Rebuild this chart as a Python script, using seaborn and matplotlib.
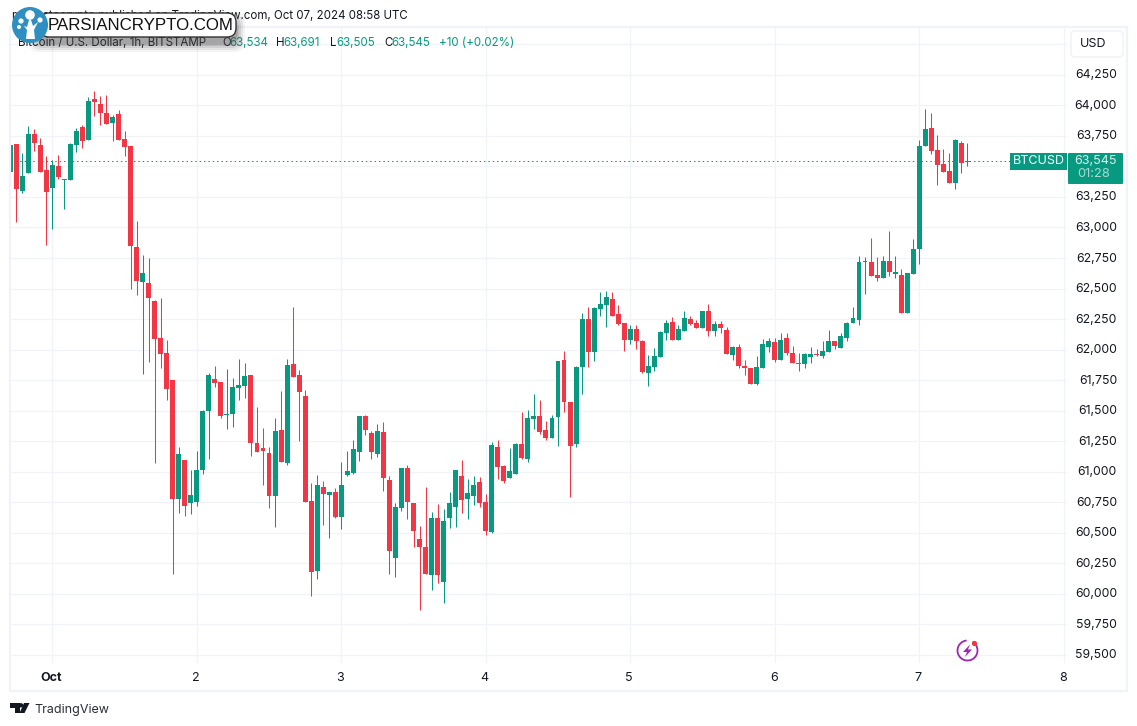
import matplotlib
matplotlib.use("Agg")
import matplotlib.pyplot as plt
from matplotlib.patches import Circle, FancyBboxPatch, Polygon, Rectangle, Arc
from matplotlib.transforms import ScaledTranslation
import pandas as pd
import seaborn as sns

GREEN = "#089981"
RED = "#F23645"
GRID = "#F0F3FA"
INK = "#131722"
W, H = 1137, 726

FIRST_HOUR = -7
DAY_LABELS = ["Oct", "2", "3", "4", "5", "6", "7", "8"]
PRICE_TICKS = [59500, 59750, 60000, 60250, 60500, 60750, 61000, 61250, 61500, 61750, 62000,
               62250, 62500, 62750, 63000, 63250, 63500, 63750, 64000, 64250, 64500]
HIDDEN_TICKS = [63500, 64500]
LAST_PRICE = 63545

OPEN = [
    63456, 63683, 63298, 63445, 63765, 63675, 63470, 63322, 63502, 63385,
    63388, 63675, 63822, 63716, 64052, 64011, 63937, 63855, 63929, 63724,
    63666, 62843, 62556, 62548, 62400, 62097, 61974, 61753, 60777, 61097,
    60745, 60753, 61015, 61499, 61761, 61736, 61466, 61474, 61687, 61703,
    61794, 61236, 61195, 61154, 60802, 61343, 61072, 61884, 61794, 61621,
    60758, 60184, 60873, 60807, 60832, 60627, 60971, 60988, 61160, 61455,
    61315, 61143, 61324, 60930, 60291, 60701, 61028, 60742, 60447, 60381,
    60152, 60619, 60094, 60619, 60709, 60963, 60775, 60799, 60914, 60750,
    60504, 61201, 61045, 60947, 60979, 61225, 61102, 61430, 61455, 61340,
    61273, 61445, 61912, 61568, 61224, 61855, 62248, 61978, 62330, 62363,
    62412, 62289, 62215, 62076, 62166, 62068, 61806, 61855, 61937, 62133,
    62224, 62076, 62150, 62248, 62215, 62174, 62314, 62150, 62207, 62158,
    61953, 62019, 61863, 61847, 61716, 61847, 62019, 62060, 61912, 62093,
    61970, 61888, 61880, 61937, 61962, 61945, 61978, 62068, 62011, 62093,
    62216, 62240, 62716, 62716, 62609, 62584, 62724, 62617, 62609, 62298,
    62617, 62823, 63667, 63815, 63635, 63520, 63462, 63364, 63692, 63534,
]
HIGH = [
    63675, 63683, 63609, 63830, 63806, 63732, 63585, 63552, 63593, 63396,
    63691, 63814, 63838, 64068, 64117, 64076, 64084, 63920, 63961, 63789,
    63666, 63052, 62777, 62753, 62408, 62422, 62080, 61753, 61203, 61097,
    61015, 61171, 61507, 61810, 61867, 61736, 61843, 61769, 61925, 61892,
    61794, 61531, 61359, 61203, 61441, 61662, 61925, 62351, 61835, 61671,
    60906, 60971, 60922, 60832, 60865, 61078, 61168, 61258, 61455, 61463,
    61332, 61389, 61406, 60963, 60742, 61028, 61053, 60742, 60553, 60873,
    60668, 60733, 60693, 60832, 61012, 61094, 60938, 60963, 60955, 60815,
    61242, 61258, 61053, 61192, 61233, 61488, 61504, 61635, 61586, 61414,
    61461, 61904, 61986, 61568, 61863, 62297, 62347, 62347, 62469, 62478,
    62469, 62363, 62215, 62199, 62199, 62076, 61953, 62010, 62150, 62240,
    62265, 62199, 62314, 62273, 62240, 62314, 62371, 62232, 62232, 62183,
    62027, 62043, 61912, 61847, 61945, 62084, 62093, 62093, 62134, 62134,
    62027, 61970, 61970, 62019, 62002, 62068, 62158, 62068, 62134, 62224,
    62347, 62765, 62757, 62912, 62757, 62765, 62970, 62765, 62658, 62625,
    62904, 63717, 63971, 63938, 63757, 63643, 63610, 63725, 63708, 63691,
]
LOW = [
    63338, 63043, 63281, 63445, 63625, 63453, 62855, 62986, 63396, 63150,
    63388, 63617, 63650, 63716, 63912, 63838, 63847, 63707, 63716, 63585,
    62498, 62449, 61802, 61900, 61072, 61851, 61589, 60163, 60660, 60638,
    60654, 60720, 60982, 61108, 61695, 61441, 61351, 61367, 61589, 61605,
    61130, 61162, 60892, 60704, 60548, 61080, 61056, 61777, 61253, 60753,
    59980, 60119, 60561, 60455, 60619, 60529, 60963, 60979, 61086, 61299,
    61102, 61119, 60840, 60160, 60135, 60676, 60611, 60381, 59865, 60160,
    60029, 60086, 59922, 60537, 60545, 60660, 60611, 60725, 60709, 60479,
    60496, 60938, 60906, 60947, 60979, 61102, 61078, 61348, 61307, 61258,
    61273, 61215, 61486, 60797, 61199, 61633, 61855, 61904, 62273, 62183,
    62273, 62199, 61986, 62043, 62002, 61806, 61699, 61822, 61937, 62076,
    62076, 62076, 62150, 62199, 62174, 62174, 62109, 62109, 62133, 61961,
    61912, 61847, 61789, 61716, 61707, 61847, 61978, 61896, 61912, 61953,
    61888, 61822, 61847, 61888, 61945, 61929, 61978, 62002, 62011, 62068,
    62216, 62199, 62453, 62601, 62560, 62584, 62601, 62584, 62298, 62298,
    62617, 62699, 63667, 63602, 63348, 63454, 63364, 63315, 63446, 63505,
]
CLOSE = [
    63675, 63314, 63420, 63765, 63691, 63453, 63289, 63511, 63412, 63390,
    63683, 63789, 63707, 64035, 64027, 63937, 63847, 63904, 63716, 63658,
    62845, 62564, 62630, 62425, 62089, 61966, 61679, 60777, 61146, 60720,
    60810, 61015, 61499, 61794, 61728, 61458, 61474, 61695, 61712, 61785,
    61236, 61162, 61171, 60802, 61335, 61080, 61876, 61777, 61654, 60753,
    60176, 60889, 60815, 60832, 60627, 60889, 61004, 61184, 61455, 61340,
    61160, 61332, 60947, 60348, 60709, 61028, 60750, 60512, 60381, 60160,
    60619, 60152, 60594, 60742, 61012, 60766, 60824, 60889, 60742, 60512,
    61217, 61037, 60922, 61004, 61225, 61110, 61438, 61455, 61324, 61274,
    61437, 61904, 61568, 61215, 61855, 62248, 61978, 62338, 62371, 62428,
    62273, 62207, 62076, 62166, 62068, 61814, 61863, 61945, 62142, 62215,
    62076, 62166, 62256, 62207, 62174, 62314, 62150, 62207, 62174, 61961,
    62019, 61863, 61847, 61716, 61855, 62043, 62068, 61912, 62076, 61970,
    61888, 61880, 61962, 61962, 61953, 61986, 62068, 62027, 62109, 62216,
    62257, 62716, 62724, 62601, 62584, 62724, 62634, 62634, 62298, 62625,
    62822, 63667, 63807, 63626, 63512, 63454, 63364, 63716, 63528, 63545,
]


def build_frame():
    df = pd.DataFrame({"open": OPEN, "high": HIGH, "low": LOW, "close": CLOSE})
    df["hour"] = range(FIRST_HOUR, FIRST_HOUR + len(df))
    df["base"] = df[["open", "close"]].min(axis=1)
    df["body"] = (df["close"] - df["open"]).abs().clip(lower=8)
    df["up"] = df["close"] >= df["open"]
    return df


def draw_candles(ax, df):
    for is_up, colour in [(True, GREEN), (False, RED)]:
        sub = df[df["up"] == is_up]
        ax.vlines(sub["hour"], sub["low"], sub["high"], color=colour, lw=0.75, zorder=3, snap=True)
        sns.barplot(data=sub, x="hour", y="body", bottom=sub["base"].to_numpy(), native_scale=True,
                    color=colour, saturation=1, width=0.82, errorbar=None, linewidth=0,
                    zorder=4, ax=ax)


def draw_header(ov):
    ov.text(12, 16, "modestocrypto published on TradingView.com, Oct 07, 2024 08:58 UTC",
            fontsize=8.3, color=INK, va="center")
    ov.text(18, 43, "Bitcoin / U.S. Dollar, 1h, BITSTAMP", fontsize=8.3, color=INK, va="center")
    for x, letter, value in [(222, "O", "63,534"), (276, "H", "63,691"),
                             (330, "L", "63,505"), (384, "C", "63,545")]:
        ov.text(x, 43, letter, fontsize=8.3, color=INK, va="center")
        ov.text(x + (7.5 if letter != "L" else 6), 43, value, fontsize=8.3, color=GREEN, va="center")
    ov.text(439, 43, "+10 (+0.02%)", fontsize=8.3, color=GREEN, va="center")


def draw_watermark(ov):
    for grow, alpha in [(9, 0.06), (7, 0.09), (5, 0.12), (3, 0.15), (1.5, 0.18)]:
        ov.add_patch(FancyBboxPatch((38 - grow, 18 - grow + 3), 198 + 2 * grow, 22 + 2 * grow,
                                    boxstyle="round,pad=0,rounding_size=10", fc="#444444",
                                    ec="none", alpha=alpha, zorder=8))
    ov.add_patch(FancyBboxPatch((40, 13), 196, 24, boxstyle="round,pad=0,rounding_size=9",
                                fc="white", ec="#333333", lw=1, zorder=9))
    ov.text(48, 25.5, "PARSIANCRYPTO.COM", fontsize=12.2, color="#111111", va="center",
            family="Liberation Sans", zorder=10)
    ov.add_patch(Circle((30, 25), 18, fc="#2E8FC0", ec="none", zorder=10))
    for cx, cy, r in [(30, 15, 4.8), (21, 21, 2.6), (40, 20, 2.6), (19, 27, 2)]:
        ov.add_patch(Circle((cx, cy), r, fc="white", ec="none", zorder=11))
    ov.add_patch(Polygon([(26, 39), (27, 30), (24, 26), (27, 27), (29, 20), (31, 20),
                          (33, 26), (38, 22), (34, 30), (35, 39)],
                         fc="white", ec="none", zorder=11))


def draw_price_tags(ov):
    ov.add_patch(Rectangle((1010, 153), 57, 17, fc=GREEN, ec="none", zorder=6))
    ov.text(1038.5, 161.5, "BTCUSD", fontsize=9, color="white", ha="center", va="center", zorder=7)
    ov.add_patch(FancyBboxPatch((1068, 153), 55, 31, boxstyle="round,pad=0,rounding_size=1",
                                fc=GREEN, ec="none", zorder=6))
    ov.text(1117, 161, "63,545", fontsize=9, color="#D8F0EB", ha="right", va="center", zorder=7)
    ov.text(1110, 174, "01:28", fontsize=9.3, color="#A6DAD0", ha="right", va="center", zorder=7)
    ov.add_patch(FancyBboxPatch((1071, 31), 52, 26, boxstyle="round,pad=0,rounding_size=4",
                                fc="white", ec=GRID, lw=1.2, zorder=6))
    ov.text(1080, 44, "USD", fontsize=9, color=INK, va="center", zorder=7)


def draw_bolt_icon(ov):
    ov.add_patch(Arc((967.5, 650.5), 20, 20, theta1=-60, theta2=265, color="#9C27B0", lw=1.3, zorder=6))
    ov.add_patch(Polygon([(970, 644.5), (963, 652), (967, 652), (965, 657), (972, 649.5), (968, 649.5)],
                         fc="#9C27B0", ec="none", zorder=6))
    ov.add_patch(Circle((974.5, 643.5), 2.6, fc=RED, ec="none", zorder=7))


def draw_footer(ov):
    ov.add_patch(Polygon([(10, 703), (19.5, 703), (19.5, 713), (14.5, 713), (14.5, 707.5), (10, 707.5)],
                         fc=INK, ec="none"))
    ov.add_patch(Circle((21, 705.3), 2.2, fc=INK, ec="none"))
    ov.add_patch(Polygon([(24, 703), (29.5, 703), (24.5, 713), (19.5, 713)], fc=INK, ec="none"))
    ov.text(34, 709.5, "TradingView", fontsize=9, color="#2A2E39", va="center")


def main():
    sns.set_theme(style="white")
    plt.rcParams["font.family"] = ["Inter", "DejaVu Sans"]
    df = build_frame()

    fig = plt.figure(figsize=(W / 100, H / 100), dpi=100, facecolor="white")
    ax = fig.add_axes([11 / W, 1 - 663 / H, 1056 / W, 635 / H])
    draw_candles(ax, df)
    ax.axhline(LAST_PRICE, color=GREEN, lw=0.75, ls=(0, (1.4, 2.8)), zorder=5)

    ax.set_xlim(-6.86, 168.55)
    ax.set_ylim(59434.5, 64633)
    ax.set_xticks([24 * d for d in range(len(DAY_LABELS))])
    ax.set_xticklabels(DAY_LABELS)
    ax.get_xticklabels()[0].set_fontweight("bold")
    ax.yaxis.tick_right()
    ax.set_yticks(PRICE_TICKS)
    ax.set_yticklabels(["" if p in HIDDEN_TICKS else f"{p:,}" for p in PRICE_TICKS],
                       ha="right", va="center_baseline")
    ax.tick_params(axis="x", length=0, pad=6.5, labelsize=9, labelcolor=INK)
    ax.tick_params(axis="y", length=0, pad=36, labelsize=8.8, labelcolor=INK)
    # nudge labels by a pixel, they sit slightly off the gridlines in the original
    for lab in ax.get_xticklabels():
        lab.set_transform(lab.get_transform() + ScaledTranslation(-1 / 100, 0, fig.dpi_scale_trans))
    for lab in ax.get_yticklabels():
        lab.set_transform(lab.get_transform() + ScaledTranslation(0, 1 / 100, fig.dpi_scale_trans))
    ax.set_xlabel("")
    ax.set_ylabel("")
    ax.grid(True, color=GRID, lw=0.9)
    ax.set_axisbelow(True)
    sns.despine(ax=ax, left=True, bottom=True, right=True, top=True)

    # pixel-coordinate overlay for the frame, tags and branding
    ov = fig.add_axes([0, 0, 1, 1], facecolor="none")
    ov.set_xlim(0, W)
    ov.set_ylim(H, 0)
    ov.axis("off")
    ov.add_patch(Rectangle((10.3, 27), 1116.7, 663.5, fc="none", ec=GRID, lw=1.6, zorder=1))
    draw_header(ov)
    draw_watermark(ov)
    draw_price_tags(ov)
    draw_bolt_icon(ov)
    draw_footer(ov)

    fig.savefig("out.png", dpi=100)
    plt.close(fig)


if __name__ == "__main__":
    main()
